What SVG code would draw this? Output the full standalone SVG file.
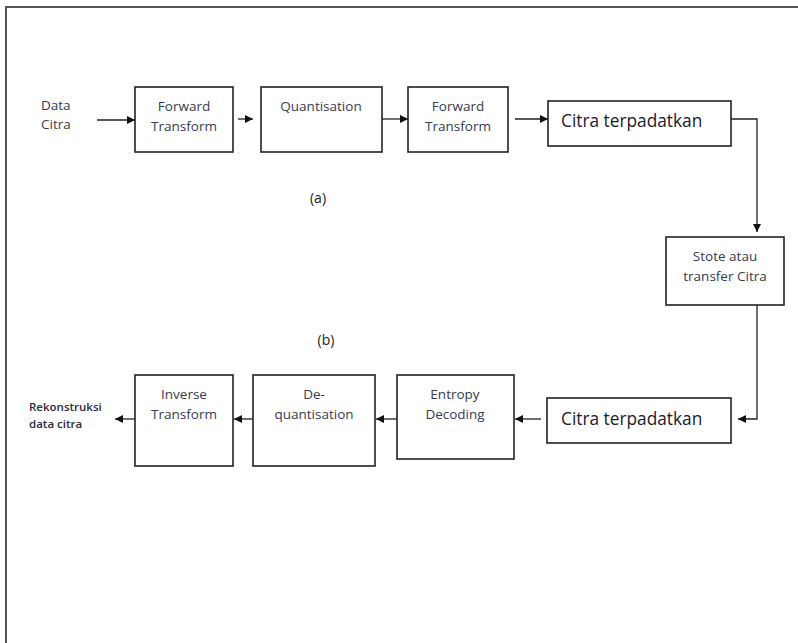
<svg xmlns="http://www.w3.org/2000/svg" width="798" height="643" viewBox="0 0 798 643">
  <style>
    .box { fill: #fff; stroke: #222; stroke-width: 1.6; }
    .lbl { font-family: "Open Sans", "Liberation Sans", sans-serif; font-size: 13.5px; fill: #3a3a50; text-anchor: middle; }
    .big { font-family: "Open Sans", "Liberation Sans", sans-serif; font-size: 17.3px; fill: #1a1a30; }
    .side { font-family: "Open Sans", "Liberation Sans", sans-serif; font-size: 13.5px; fill: #3a3a50; }
    .out { font-family: "Open Sans", "Liberation Sans", sans-serif; font-size: 11.5px; font-weight: 600; fill: #2a2a40; }
    .cap { font-family: "Open Sans", "Liberation Sans", sans-serif; font-size: 14px; fill: #222; text-anchor: middle; }
    .wire { fill: none; stroke: #222; stroke-width: 1.3; }
  </style>
  <defs>
    <marker id="arrow" viewBox="0 0 10 10" refX="10" refY="5" markerWidth="8" markerHeight="8" markerUnits="userSpaceOnUse" orient="auto">
      <path d="M0,0 L10,5 L0,10 z" fill="#111"/>
    </marker>
  </defs>

  <rect width="798" height="643" fill="#fff"/>
  <!-- page frame -->
  <path d="M6,643 V7 H798" fill="none" stroke="#555" stroke-width="2"/>

  <!-- (a) compression chain -->
  <g id="input">
    <text class="side" x="41" y="110">Data</text>
    <text class="side" x="41" y="129">Citra</text>
  </g>
  <g id="fwd1">
    <rect class="box" x="135" y="87" width="98" height="65"/>
    <text class="lbl" x="184" y="111">Forward</text>
    <text class="lbl" x="184" y="131">Transform</text>
  </g>
  <g id="quant">
    <rect class="box" x="261" y="87" width="121" height="65"/>
    <text class="lbl" x="321" y="111">Quantisation</text>
  </g>
  <g id="fwd2">
    <rect class="box" x="408" y="87" width="100" height="65"/>
    <text class="lbl" x="458" y="111">Forward</text>
    <text class="lbl" x="458" y="131">Transform</text>
  </g>
  <g id="compressed1">
    <rect class="box" x="548" y="101" width="183" height="45"/>
    <text class="big" x="561" y="127">Citra terpadatkan</text>
  </g>
  <text class="cap" x="318" y="203">(a)</text>

  <g id="store">
    <rect class="box" x="666" y="237" width="118" height="68"/>
    <text class="lbl" x="725" y="261">Stote atau</text>
    <text class="lbl" x="725" y="281">transfer Citra</text>
  </g>

  <!-- (b) decompression chain -->
  <text class="cap" x="326" y="345">(b)</text>
  <g id="compressed2">
    <rect class="box" x="547" y="398" width="184" height="45"/>
    <text class="big" x="561" y="425">Citra terpadatkan</text>
  </g>
  <g id="entropy">
    <rect class="box" x="397" y="375" width="117" height="84"/>
    <text class="lbl" x="455" y="399">Entropy</text>
    <text class="lbl" x="455" y="419">Decoding</text>
  </g>
  <g id="dequant">
    <rect class="box" x="253" y="375" width="122" height="91"/>
    <text class="lbl" x="314" y="399">De-</text>
    <text class="lbl" x="314" y="419">quantisation</text>
  </g>
  <g id="inverse">
    <rect class="box" x="135" y="375" width="98" height="91"/>
    <text class="lbl" x="184" y="399">Inverse</text>
    <text class="lbl" x="184" y="419">Transform</text>
  </g>
  <g id="output">
    <text class="out" x="29" y="411">Rekonstruksi</text>
    <text class="out" x="29" y="428">data citra</text>
  </g>

  <g id="connectors">
    <path class="wire" d="M97,120 H135" marker-end="url(#arrow)"/>
    <path class="wire" d="M238,119 H253" marker-end="url(#arrow)"/>
    <path class="wire" d="M382,119 H408" marker-end="url(#arrow)"/>
    <path class="wire" d="M515,119 H548" marker-end="url(#arrow)"/>
    <path class="wire" d="M731,119 H757 V232" marker-end="url(#arrow)"/>
    <path class="wire" d="M757,305 V419 H738" marker-end="url(#arrow)"/>
    <path class="wire" d="M541,419 H515" marker-end="url(#arrow)"/>
    <path class="wire" d="M397,419 H376" marker-end="url(#arrow)"/>
    <path class="wire" d="M253,419 H234" marker-end="url(#arrow)"/>
    <path class="wire" d="M135,419 H115" marker-end="url(#arrow)"/>
  </g>
</svg>
